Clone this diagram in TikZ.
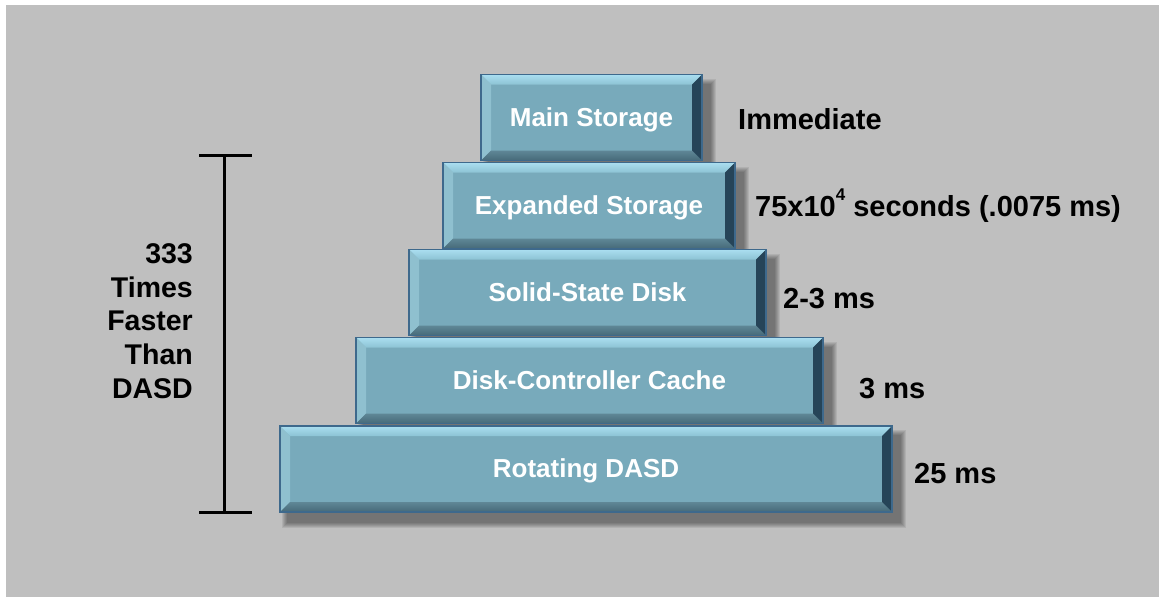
\documentclass[tikz,border=0pt]{standalone}
\usepackage{fontspec}
\setmainfont{Liberation Sans}
\usetikzlibrary{calc}
\pgfdeclarelayer{background}
\pgfsetlayers{background,main}
\definecolor{bg}{RGB}{191,191,191}
\definecolor{face}{RGB}{120,170,187}
\definecolor{bevtopA}{RGB}{170,222,240}
\definecolor{bevtopB}{RGB}{140,195,212}
\definecolor{bevleft}{RGB}{143,192,207}
\definecolor{bevbotA}{RGB}{95,135,150}
\definecolor{bevbotB}{RGB}{70,105,120}
\definecolor{bevright}{RGB}{38,68,88}
\definecolor{edge}{RGB}{62,105,140}
\tikzset{
  tier/.style={rectangle, inner sep=0pt, minimum height=86pt, minimum width=#1,
    fill=face, draw=edge, line width=1.1pt, text=white,
    font=\bfseries\fontsize{26}{30}\selectfont, text height=17pt, text depth=0pt,
    path picture={
      \coordinate (NW) at (path picture bounding box.north west);
      \coordinate (NE) at (path picture bounding box.north east);
      \coordinate (SW) at (path picture bounding box.south west);
      \coordinate (SE) at (path picture bounding box.south east);
      \shade[top color=bevtopA, bottom color=bevtopB] (NW) -- (NE) -- ([shift={(-10pt,-10pt)}]NE) -- ([shift={(10pt,-10pt)}]NW) -- cycle;
      \fill[bevleft] (NW) -- ([shift={(10pt,-10pt)}]NW) -- ([shift={(10pt,10pt)}]SW) -- (SW) -- cycle;
      \shade[top color=bevbotA, bottom color=bevbotB] (SW) -- ([shift={(10pt,10pt)}]SW) -- ([shift={(-10pt,10pt)}]SE) -- (SE) -- cycle;
      \fill[bevright] (NE) -- (SE) -- ([shift={(-10pt,10pt)}]SE) -- ([shift={(-10pt,-10pt)}]NE) -- cycle;
    }},
  lbl/.style={anchor=base west, inner sep=0pt, font=\bfseries\fontsize{29}{34}\selectfont},
  bracket/.style={line width=3pt, black}
}
\begin{document}
\begin{tikzpicture}[x=1pt, y=-1pt]
\useasboundingbox (0,0) rectangle (1159,597);

\node[tier=221pt] (ms) at (591.5,117.5) {Main Storage};
\node[tier=292pt] (es) at (589,205.5) {Expanded Storage};
\node[tier=357pt] (ss) at (587.5,292.5) {Solid-State Disk};
\node[tier=467pt] (dc) at (589.5,380.5) {Disk-Controller Cache};
\node[tier=612pt] (rd) at (586,469) {Rotating DASD};

\node[lbl] (t1) at (738,129) {Immediate};
\node[lbl] (t2) at (755,216) {75x10\raisebox{0.55em}{\fontsize{17}{17}\selectfont 4} seconds (.0075 ms)};
\node[lbl] (t3) at (783,308) {2-3 ms};
\node[lbl] (t4) at (859,398) {3 ms};
\node[lbl] (t5) at (914,483) {25 ms};

\coordinate (bt) at (224,155);
\coordinate (bb) at (224,512);
\coordinate (btl) at (199,155);
\coordinate (btr) at (252,155);
\coordinate (bbl) at (199,512);
\coordinate (bbr) at (252,512);
\draw[bracket] (bt) -- (bb);
\draw[bracket] (btl) -- (btr);
\draw[bracket] (bbl) -- (bbr);
\node[anchor=east, align=right, inner sep=0pt, font=\bfseries\fontsize{28.5}{33.75}\selectfont] (note) at (193,321) {333\\Times\\Faster\\Than\\DASD};

\begin{pgfonlayer}{background}
\fill[white] (0,0) rectangle (1159,597);
\fill[bg] (6,5) rectangle (1159,597);
\foreach \n in {ms,es,ss,dc,rd}{
  \foreach \k in {0,1,2,3,4,5}{
    \fill[black, opacity=0.075] ([xshift={8pt-\k*1pt}, yshift={-10pt+\k*1pt}]\n.north west) rectangle ([xshift={8pt+\k*1pt}, yshift={-10pt-\k*1pt}]\n.south east);
  }
}
\end{pgfonlayer}
\end{tikzpicture}
\end{document}
